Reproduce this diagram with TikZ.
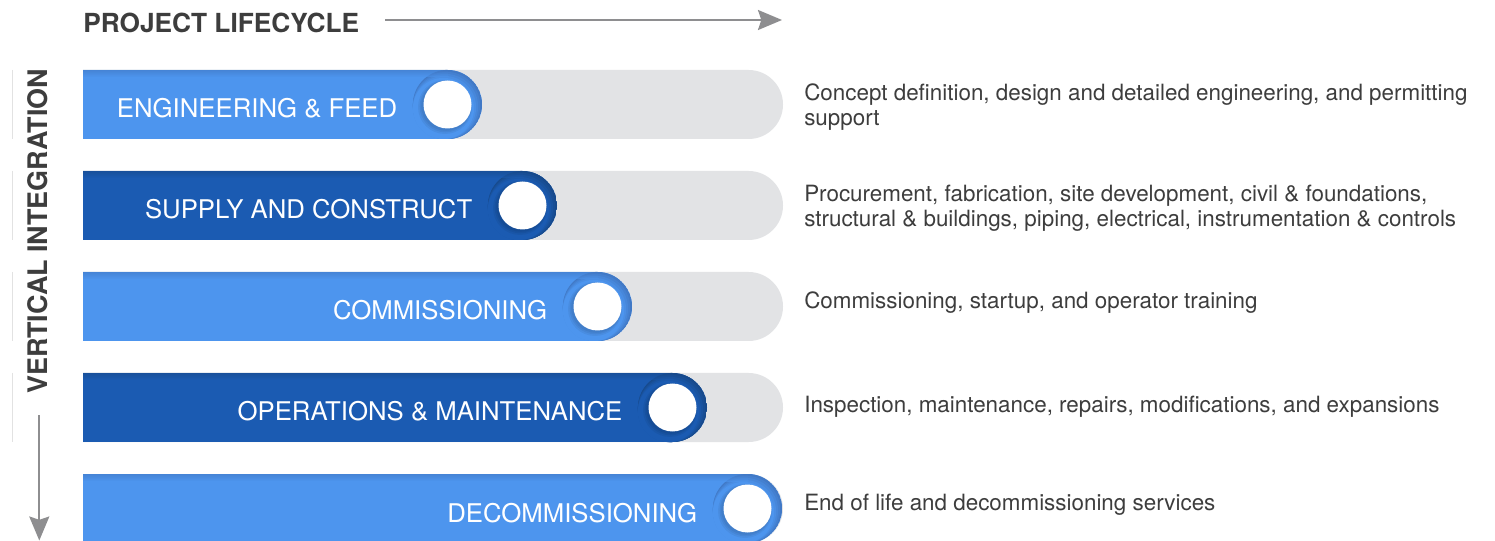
\documentclass[tikz,border=0pt]{standalone}
\usepackage{fontspec}
\setmainfont{TeX Gyre Heros}
\usetikzlibrary{arrows.meta}
\definecolor{lblue}{HTML}{4D95EE}
\definecolor{lbluedk}{HTML}{4179C6}
\definecolor{dblue}{HTML}{1B5BB2}
\definecolor{dbluedk}{HTML}{174A8C}
\definecolor{trackgray}{HTML}{E2E3E5}
\definecolor{ink}{HTML}{3D3D3D}
\definecolor{arrowgray}{HTML}{8E8E90}
\definecolor{linegray}{HTML}{E2E2E2}
\tikzset{
  lbl/.style={text=white, font=\fontsize{19.3}{19.3}\selectfont, inner sep=0pt, anchor=base east},
  desc/.style={text=ink, font=\fontsize{16.8}{19}\selectfont, inner sep=0pt, anchor=base west},
  dotnode/.style={circle, fill=white, minimum size=36pt, inner sep=0pt},
  softshade/.style={fill=black, fill opacity=0.05},
  gline/.style={draw=linegray, line width=0.75pt},
  axisarrow/.style={draw=arrowgray, line width=1.5pt, -{Stealth[length=18pt,width=15pt,inset=2.5pt]}},
  headtext/.style={text=ink, font=\bfseries\fontsize{19.7}{19.7}\selectfont, inner sep=0pt},
}
% #1 index, #2 base colour, #3 dark colour, #4 label, #5 name
\newcommand\phaserow[5]{%
  \pgfmathsetmacro\tp{70+101*#1}%
  \pgfmathsetmacro\bt{\tp+69}%
  \pgfmathsetmacro\yc{\tp+34.5}%
  \pgfmathsetmacro\xe{482+75*#1}%
  \pgfmathsetmacro\cx{\xe-34.5}%
  \fill[trackgray] (83,\tp) -- (748.5,\tp) arc[start angle=-90,end angle=90,radius=34.5] -- (83,\bt) -- cycle;
  \begin{scope}
    \clip (83,\tp) -- (\cx,\tp) arc[start angle=-90,end angle=90,radius=34.5] -- (83,\bt) -- cycle;
    \fill[#2] (83,\tp) rectangle (\xe,\bt);
    \fill[#3] (\cx,\yc) circle[radius=34.6];
    \fill[#3!75!#2] (\cx-1,\yc+1) circle[radius=33.6];
    \fill[#3!50!#2] (\cx-2,\yc+2) circle[radius=32.6];
    \fill[#3!25!#2] (\cx-3,\yc+3) circle[radius=31.6];
    \fill[#2] (\cx-4,\yc+4) circle[radius=30.6];
    \shade[top color=#3, bottom color=#2, opacity=0.6] (83,\tp) rectangle (\cx,\tp+7);
    \fill[softshade] (\cx-2.5,\yc+2.5) circle[radius=27];
    \fill[softshade] (\cx-2,\yc+2) circle[radius=25.8];
    \fill[softshade] (\cx-1.5,\yc+1.5) circle[radius=24.8];
  \end{scope}
  \node[dotnode] (dot#5) at (\cx,\yc) {};
  \node[lbl] (lab#5) at (\cx-50,\yc+13.5) {#4};
}
\begin{document}
\begin{tikzpicture}[x=0.75pt,y=-0.75pt]
\useasboundingbox (0,0) rectangle (1495,541);
\fill[white] (0,0) rectangle (1495,541);

% header
\node[headtext, anchor=base west] (title) at (83,32.3) {PROJECT LIFECYCLE};
\coordinate (hstart) at (385,20);
\coordinate (hend) at (782,20);
\draw[axisarrow] (hstart) -- (hend);

% vertical axis
\node[headtext, rotate=90, text height=0.72em, text depth=0pt] (vtitle) at (42.5,231.5) {\fontsize{20.2}{20.2}\selectfont VERTICAL INTEGRATION};
\coordinate (vstart) at (39.3,415);
\coordinate (vend) at (39.3,540.5);
\draw[axisarrow] (vstart) -- (vend);

% thin side guides
\foreach \i in {0,1,2,3}{
  \coordinate (g\i a) at (12.3,70+101*\i);
  \coordinate (g\i b) at (12.3,139+101*\i);
  \draw[gline] (g\i a) -- (g\i b);
}

% rows
\phaserow{0}{lblue}{lbluedk}{ENGINEERING \& FEED}{1}
\phaserow{1}{dblue}{dbluedk}{SUPPLY AND CONSTRUCT}{2}
\phaserow{2}{lblue}{lbluedk}{COMMISSIONING}{3}
\phaserow{3}{dblue}{dbluedk}{OPERATIONS \& MAINTENANCE}{4}
\phaserow{4}{lblue}{lbluedk}{DECOMMISSIONING}{5}

% descriptions
\node[desc] (desc1a) at (804,100.5) {Concept definition, design and detailed engineering, and permitting};
\node[desc] (desc1b) at (804,125.5) {support};
\node[desc] (desc2a) at (804,201.5) {Procurement, fabrication, site development, civil \& foundations,};
\node[desc] (desc2b) at (804,226.5) {structural \& buildings, piping, electrical, instrumentation \& controls};
\node[desc] (desc3) at (804,308.5) {Commissioning, startup, and operator training};
\node[desc] (desc4) at (804,412.5) {Inspection, maintenance, repairs, modifications, and expansions};
\node[desc] (desc5) at (804,510.5) {End of life and decommissioning services};
\end{tikzpicture}
\end{document}
